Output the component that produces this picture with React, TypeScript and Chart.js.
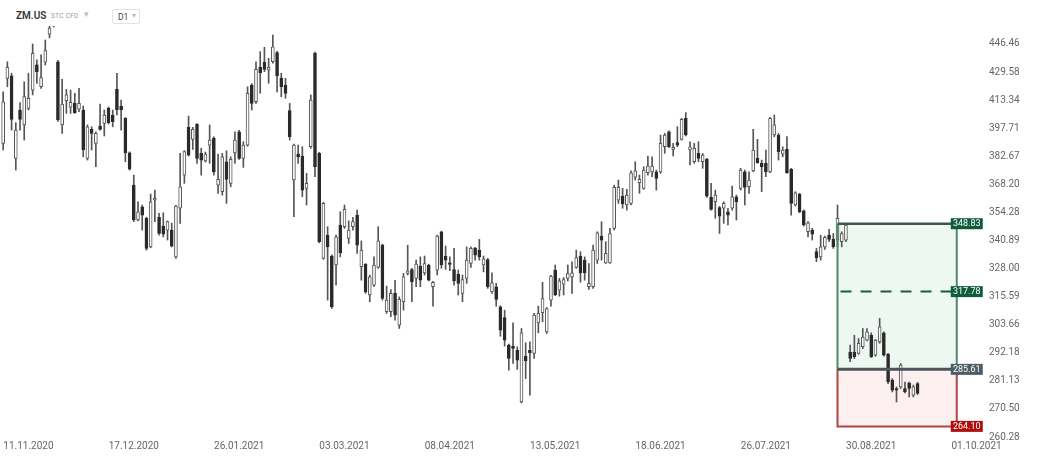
import React, { useEffect, useRef } from "react";
import Chart from "chart.js/auto";

// ---- Data ----
const candleOpen = [
  389.5, 425.9, 427.3, 381.6, 407.8, 399.5, 408.7, 419.1, 433.8, 421.0,
  435.4, 452.6, 465.2, 435.7, 399.5, 413.0, 409.3, 411.5, 408.2, 407.8,
  381.6, 397.1, 389.5, 398.9, 400.4, 408.7, 405.0, 419.5, 410.0, 403.1,
  384.5, 367.8, 350.6, 357.0, 351.4, 337.9, 360.3, 351.9, 347.7, 345.8,
  345.8, 333.3, 356.3, 372.9, 398.2, 391.7, 399.8, 384.2, 380.3, 388.6,
  392.2, 367.8, 364.5, 379.8, 368.7, 384.5, 395.8, 381.6, 388.6, 422.0,
  412.4, 432.4, 435.4, 430.8, 435.7, 441.2, 425.9, 422.0, 407.4, 370.4,
  383.8, 382.8, 366.2, 387.7, 440.8, 384.2, 332.6, 343.4, 333.7, 329.6,
  348.2, 347.4, 341.9, 347.4, 353.0, 328.8, 329.9, 316.3, 320.6, 328.5,
  338.7, 309.1, 309.1, 317.0, 303.5, 313.4, 325.8, 327.6, 323.6, 329.1,
  326.1, 329.6, 319.9, 327.3, 345.0, 333.7, 330.6, 327.6, 325.4, 317.0,
  323.6, 330.3, 337.2, 336.4, 329.6, 332.1, 317.7, 319.9, 311.2, 306.7,
  295.3, 294.9, 293.2, 273.1, 290.8, 293.2, 291.9, 304.4, 308.7, 300.7,
  314.1, 327.3, 318.4, 321.1, 323.6, 324.3, 328.5, 333.7, 331.8, 319.9,
  319.9, 331.8, 343.0, 330.6, 330.6, 346.6, 360.3, 362.3, 357.9, 358.7,
  371.8, 369.0, 366.2, 374.1, 374.6, 374.6, 374.6, 387.7, 395.8, 386.3,
  389.9, 391.7, 403.1, 386.0, 379.8, 384.2, 379.8, 381.1, 361.7, 359.5,
  356.7, 356.3, 354.6, 356.3, 362.0, 366.2, 374.6, 367.0, 375.1, 381.6,
  379.0, 379.0, 374.6, 394.0, 394.0, 383.8, 386.3, 375.9, 357.9, 363.3,
  355.1, 345.0, 345.8, 335.7, 333.3, 337.9, 343.4, 341.4, 341.1, 340.3,
  341.1, 292.5, 292.5, 291.9, 294.6, 297.3, 299.3, 291.2, 296.6, 300.3,
  291.6, 281.4, 278.2, 278.8, 278.2, 280.3, 275.7, 280.1,
];
const candleHigh = [
  418.1, 435.7, 428.9, 400.7, 411.9, 423.9, 428.9, 446.5, 436.8, 439.8,
  448.9, 461.4, 467.8, 436.5, 425.3, 419.5, 419.1, 417.2, 420.1, 410.0,
  399.5, 398.5, 395.8, 411.1, 407.8, 409.5, 407.8, 428.9, 413.4, 403.5,
  385.0, 372.9, 359.5, 357.9, 352.0, 363.3, 365.3, 353.8, 354.1, 350.2,
  349.1, 357.8, 384.2, 385.6, 404.4, 398.2, 400.3, 386.9, 384.9, 399.5,
  393.0, 383.8, 384.2, 385.6, 382.4, 395.8, 396.5, 390.4, 421.0, 422.8,
  435.7, 441.8, 444.4, 437.8, 452.0, 442.0, 428.9, 425.9, 411.5, 389.2,
  388.6, 387.7, 373.8, 416.3, 441.5, 384.8, 359.2, 347.4, 334.2, 343.4,
  354.6, 357.9, 350.2, 351.9, 355.4, 340.7, 330.3, 325.1, 333.3, 347.4,
  339.2, 320.2, 318.7, 322.8, 315.5, 325.8, 338.7, 328.1, 331.8, 333.3,
  333.7, 330.0, 322.3, 343.4, 345.3, 338.3, 333.3, 337.2, 327.3, 325.1,
  337.9, 337.9, 337.7, 341.4, 333.7, 332.6, 326.1, 321.4, 311.7, 309.8,
  295.7, 304.4, 294.6, 302.1, 296.2, 296.6, 308.4, 311.5, 321.9, 310.9,
  325.0, 329.6, 323.6, 324.0, 329.6, 331.1, 336.4, 335.7, 333.3, 330.3,
  338.7, 345.0, 349.8, 340.3, 346.6, 367.8, 370.4, 366.2, 365.7, 375.1,
  379.8, 372.9, 377.2, 382.8, 382.4, 375.5, 394.0, 394.9, 396.3, 389.5,
  398.5, 403.1, 406.3, 390.4, 389.5, 390.4, 384.2, 381.6, 368.7, 365.3,
  357.2, 359.5, 356.3, 367.3, 362.8, 376.4, 375.5, 374.6, 397.1, 391.7,
  380.7, 386.0, 403.7, 405.0, 394.9, 387.7, 393.1, 376.4, 364.5, 363.7,
  355.5, 349.8, 346.6, 337.2, 343.4, 343.0, 346.1, 344.2, 357.9, 345.0,
  348.7, 295.3, 299.3, 298.0, 302.1, 302.1, 300.3, 297.6, 306.3, 300.7,
  292.0, 282.0, 278.8, 287.9, 280.7, 280.7, 279.5, 280.5,
];
const candleLow = [
  386.0, 421.0, 396.7, 375.5, 396.7, 391.3, 407.8, 416.3, 423.0, 420.1,
  433.8, 450.2, 457.0, 401.5, 394.9, 405.9, 405.9, 405.9, 406.8, 382.4,
  380.7, 386.0, 377.2, 396.7, 393.5, 400.0, 398.5, 405.0, 396.7, 379.8,
  375.5, 349.8, 350.2, 345.8, 336.4, 337.5, 349.8, 343.4, 342.6, 341.1,
  337.9, 332.6, 349.0, 368.7, 382.8, 386.3, 379.0, 372.9, 379.6, 379.0,
  372.9, 363.7, 362.8, 358.7, 367.0, 379.0, 381.0, 376.9, 388.0, 407.8,
  411.5, 417.2, 429.8, 423.0, 434.8, 418.1, 415.3, 414.4, 391.3, 352.2,
  379.0, 362.0, 357.9, 386.9, 372.1, 339.8, 332.2, 314.1, 310.5, 320.6,
  333.3, 346.6, 339.5, 345.8, 334.9, 322.8, 317.0, 313.4, 319.9, 328.1,
  314.1, 308.4, 307.0, 305.6, 302.1, 309.8, 325.1, 313.4, 319.9, 319.9,
  325.1, 322.5, 311.5, 325.1, 328.1, 327.6, 327.0, 320.6, 316.3, 313.4,
  321.4, 328.5, 331.8, 331.8, 326.5, 319.2, 317.0, 311.5, 298.9, 294.9,
  285.3, 287.9, 285.6, 272.7, 282.0, 275.7, 289.9, 300.3, 304.9, 300.0,
  311.5, 316.0, 315.8, 316.3, 322.5, 317.0, 328.1, 321.9, 322.8, 318.7,
  319.2, 330.3, 331.8, 330.3, 330.3, 345.8, 358.7, 356.3, 355.4, 357.9,
  370.4, 363.7, 365.7, 372.9, 372.1, 365.3, 373.8, 384.2, 387.2, 382.8,
  387.7, 391.3, 393.5, 378.1, 379.0, 379.8, 376.4, 361.7, 355.4, 351.4,
  344.2, 349.0, 348.2, 355.4, 350.6, 365.3, 357.9, 363.7, 374.6, 379.0,
  364.5, 372.1, 374.1, 393.1, 380.7, 382.4, 373.8, 353.0, 357.4, 354.1,
  347.7, 342.6, 341.1, 331.1, 331.8, 336.7, 340.3, 337.2, 337.9, 337.9,
  340.3, 288.6, 289.9, 291.6, 293.9, 297.0, 290.3, 290.8, 296.0, 290.8,
  280.1, 276.9, 273.1, 278.2, 276.5, 275.0, 275.0, 275.9,
];
const candleClose = [
  412.4, 432.4, 402.6, 396.7, 402.6, 415.3, 414.4, 440.8, 429.8, 426.3,
  442.4, 456.4, 458.9, 402.2, 411.1, 416.3, 412.1, 406.3, 411.5, 386.0,
  398.5, 394.9, 394.9, 397.1, 405.0, 400.7, 401.3, 407.8, 407.8, 384.5,
  375.9, 350.6, 354.6, 353.0, 337.2, 359.5, 361.2, 344.2, 343.9, 349.8,
  338.3, 357.4, 367.0, 385.1, 383.3, 397.1, 381.6, 380.7, 383.8, 391.3,
  374.6, 370.7, 382.4, 370.7, 381.1, 391.3, 381.6, 388.6, 417.2, 411.5,
  431.2, 429.2, 431.2, 432.4, 444.8, 427.3, 421.0, 417.2, 393.1, 388.6,
  382.4, 365.3, 368.7, 413.4, 377.2, 340.3, 358.7, 337.9, 311.2, 342.6,
  335.2, 355.8, 345.8, 349.8, 338.7, 336.4, 317.7, 324.3, 329.6, 340.7,
  314.8, 314.1, 317.0, 307.7, 314.4, 324.3, 327.0, 322.1, 330.0, 322.8,
  330.3, 322.8, 321.9, 343.0, 329.6, 331.8, 329.9, 322.5, 321.4, 323.1,
  331.8, 337.2, 334.1, 333.3, 332.4, 319.9, 321.6, 314.4, 301.4, 297.3,
  289.9, 293.9, 289.2, 300.3, 288.9, 292.2, 307.7, 308.4, 314.8, 310.5,
  324.6, 316.3, 322.5, 323.1, 325.8, 326.1, 333.0, 326.1, 326.1, 321.4,
  336.4, 344.5, 341.1, 334.9, 344.2, 366.7, 366.7, 358.4, 362.8, 374.1,
  375.1, 370.7, 375.5, 377.6, 377.6, 371.2, 389.5, 394.0, 387.7, 387.4,
  388.6, 402.6, 394.0, 387.7, 386.9, 381.6, 383.3, 362.3, 355.8, 362.8,
  352.5, 358.7, 353.0, 362.0, 359.5, 375.5, 366.7, 370.4, 386.0, 379.3,
  377.2, 374.6, 403.1, 399.5, 385.1, 386.0, 374.1, 358.7, 364.0, 354.6,
  348.2, 349.3, 343.9, 333.0, 337.9, 342.4, 341.4, 337.9, 351.4, 344.2,
  348.2, 289.9, 290.6, 296.0, 298.6, 300.7, 290.6, 297.3, 302.8, 291.2,
  280.7, 277.6, 277.6, 287.3, 276.9, 278.2, 278.8, 276.3,
];

const xTickIndex = [6, 31, 56, 81, 106, 131, 156, 181, 206, 231];
const xTickLabels = [
  "11.11.2020", "17.12.2020", "26.01.2021", "03.03.2021", "08.04.2021",
  "13.05.2021", "18.06.2021", "26.07.2021", "30.08.2021", "01.10.2021",
];
const yTickValues = [
  260.28, 270.5, 281.13, 292.18, 303.66, 315.59, 328.0, 340.89, 354.28,
  368.2, 382.67, 397.71, 413.34, 429.58, 446.46,
];

// Position tool levels
const positionStartIndex = 198;
const positionEndIndex = 226.3;
const takeProfit = 348.83;
const midTarget = 317.78;
const entryPrice = 285.61;
const stopLoss = 264.1;

const FONT = "Roboto, 'Open Sans', Arial, sans-serif";

const positionPlugin = {
  id: "positionBox",
  beforeDatasetsDraw(chart: any) {
    const { ctx, scales } = chart;
    const x = scales.x, y = scales.y;
    const xL = x.getPixelForValue(positionStartIndex);
    const xR = x.getPixelForValue(positionEndIndex);
    const yTP = y.getPixelForValue(takeProfit);
    const yEn = y.getPixelForValue(entryPrice);
    const ySL = y.getPixelForValue(stopLoss);
    ctx.save();
    ctx.fillStyle = "#eef8f2";
    ctx.fillRect(xL, yTP, xR - xL, yEn - yTP);
    ctx.fillStyle = "#fcefef";
    ctx.fillRect(xL, yEn, xR - xL, ySL - yEn);
    ctx.restore();
  },
  afterDatasetsDraw(chart: any) {
    const { ctx, scales } = chart;
    const x = scales.x, y = scales.y;
    const xL = x.getPixelForValue(positionStartIndex);
    const xR = x.getPixelForValue(positionEndIndex);
    const yTP = y.getPixelForValue(takeProfit);
    const yMid = y.getPixelForValue(midTarget);
    const yEn = y.getPixelForValue(entryPrice);
    const ySL = y.getPixelForValue(stopLoss);
    ctx.save();
    ctx.strokeStyle = "#4e8a6c";
    ctx.lineWidth = 2;
    ctx.beginPath();
    ctx.moveTo(xL, yTP); ctx.lineTo(xL, yEn);
    ctx.moveTo(xR, yTP); ctx.lineTo(xR, yEn);
    ctx.stroke();
    ctx.strokeStyle = "#ad4646";
    ctx.lineWidth = 2;
    ctx.beginPath();
    ctx.moveTo(xL, yEn); ctx.lineTo(xL, ySL); ctx.lineTo(xR, ySL); ctx.lineTo(xR, yEn);
    ctx.stroke();
    ctx.strokeStyle = "#3a5a4d";
    ctx.lineWidth = 2.5;
    ctx.beginPath();
    ctx.moveTo(xL, yTP); ctx.lineTo(xR, yTP);
    ctx.stroke();
    ctx.strokeStyle = "#1f5a3c";
    ctx.lineWidth = 2;
    ctx.setLineDash([11, 9]);
    ctx.beginPath();
    ctx.moveTo(xL + 3, yMid); ctx.lineTo(xR, yMid);
    ctx.stroke();
    ctx.setLineDash([]);
    ctx.strokeStyle = "#4b5559";
    ctx.lineWidth = 3;
    ctx.beginPath();
    ctx.moveTo(xL, yEn); ctx.lineTo(xR, yEn);
    ctx.stroke();
    ctx.restore();
  },
  afterDraw(chart: any) {
    const { ctx, scales } = chart;
    const x = scales.x, y = scales.y;
    const xR = x.getPixelForValue(positionEndIndex);
    const labels: [number, string][] = [
      [takeProfit, "#0f5b3b"],
      [midTarget, "#0f5b3b"],
      [entryPrice, "#4e5c64"],
      [stopLoss, "#b00e0e"],
    ];
    ctx.save();
    ctx.font = `9px ${FONT}`;
    ctx.textAlign = "center";
    ctx.textBaseline = "middle";
    for (const [v, col] of labels) {
      const py = y.getPixelForValue(v);
      ctx.fillStyle = col;
      ctx.fillRect(xR - 6, py - 5.5, 32, 11);
      ctx.fillStyle = "#ffffff";
      ctx.fillText(v.toFixed(2), xR + 10, py + 0.5);
    }
    ctx.restore();
  },
};

export default function App() {
  const canvasRef = useRef<HTMLCanvasElement | null>(null);

  useEffect(() => {
    if (!canvasRef.current) return;
    const idx = candleOpen.map((_, i) => i);
    const isUp = (i: number) => candleClose[i] >= candleOpen[i];
    const chart = new Chart(canvasRef.current, {
      type: "bar",
      data: {
        datasets: [
          {
            label: "wick",
            data: idx.map((i) => ({ x: i, y: [candleLow[i], candleHigh[i]] })) as any,
            backgroundColor: "#555555",
            barThickness: 1,
            grouped: false,
            order: 2,
          } as any,
          {
            label: "body",
            data: idx.map((i) => ({ x: i, y: [candleOpen[i], candleClose[i]] })) as any,
            backgroundColor: (c: any) => (isUp(c.dataIndex) ? "#ffffff" : "#2a2a2a"),
            borderColor: (c: any) => (isUp(c.dataIndex) ? "#555555" : "#2a2a2a"),
            borderWidth: 1,
            borderSkipped: false,
            barThickness: 3,
            minBarLength: 1,
            grouped: false,
            order: 1,
          } as any,
        ],
      },
      options: {
        animation: false,
        responsive: false,
        maintainAspectRatio: false,
        layout: { padding: 0, autoPadding: false },
        plugins: { legend: { display: false }, tooltip: { enabled: false } },
        scales: {
          x: {
            type: "linear",
            offset: false,
            min: -0.75,
            max: 233,
            grid: { display: false, drawTicks: false, offset: false },
            border: { display: false },
            ticks: {
              autoSkip: false,
              maxRotation: 0,
              padding: 3,
              color: "#666666",
              font: { family: FONT, size: 10 },
              callback: (v: any) => {
                const k = xTickIndex.indexOf(Number(v));
                return k >= 0 ? xTickLabels[k] : "";
              },
            },
            afterBuildTicks: (s: any) => {
              s.ticks = xTickIndex.map((v) => ({ value: v }));
            },
            afterFit: (s: any) => {
              s.height = 20;
              s.paddingLeft = 0;
              s.paddingRight = 0;
              s.paddingTop = 0;
              s.paddingBottom = 0;
            },
          } as any,
          y: {
            type: "logarithmic",
            position: "right",
            min: 260.28,
            max: 474.26,
            grid: { display: false, drawTicks: false },
            border: { display: false },
            ticks: {
              autoSkip: false,
              padding: 4,
              color: "#666666",
              font: { family: FONT, size: 10 },
              callback: (v: any) => Number(v).toFixed(2),
            },
            afterBuildTicks: (s: any) => {
              s.ticks = yTickValues.map((v) => ({ value: v }));
            },
            afterFit: (s: any) => {
              s.width = 53;
              s.paddingLeft = 0;
              s.paddingRight = 0;
              s.paddingTop = 0;
              s.paddingBottom = 0;
            },
          } as any,
        },
      },
      plugins: [positionPlugin],
    });
    return () => chart.destroy();
  }, []);

  return (
    <div style={{ position: "fixed", left: 0, top: 0, width: 1038, height: 457, background: "#fff" }}>
      <canvas ref={canvasRef} width={1038} height={457} style={{ display: "block" }} />
      <div
        style={{
          position: "absolute", left: 10, top: 4, width: 136, height: 22,
          background: "#fff", fontFamily: FONT,
        }}
      >
        <span style={{ position: "absolute", left: 6, top: 6, fontSize: 10, fontWeight: 600, color: "#333", lineHeight: "11px" }}>ZM.US</span>
        <span style={{ position: "absolute", left: 41, top: 9, fontSize: 6.5, color: "#9a9a9a", lineHeight: "7px", letterSpacing: 0.3 }}>STC CFD</span>
        <span style={{ position: "absolute", left: 74, top: 5, fontSize: 9, color: "#bbbbbb", lineHeight: "11px" }}>▾</span>
        <div
          style={{
            position: "absolute", left: 102, top: 5, width: 28, height: 15,
            border: "1px solid #e2e2e2", borderRadius: 2, boxSizing: "border-box",
          }}
        >
          <span style={{ position: "absolute", left: 5, top: 2, fontSize: 8.5, color: "#444", lineHeight: "10px" }}>D1</span>
          <span style={{ position: "absolute", left: 19, top: 1, fontSize: 8, color: "#bbbbbb", lineHeight: "10px" }}>▾</span>
        </div>
      </div>
    </div>
  );
}
